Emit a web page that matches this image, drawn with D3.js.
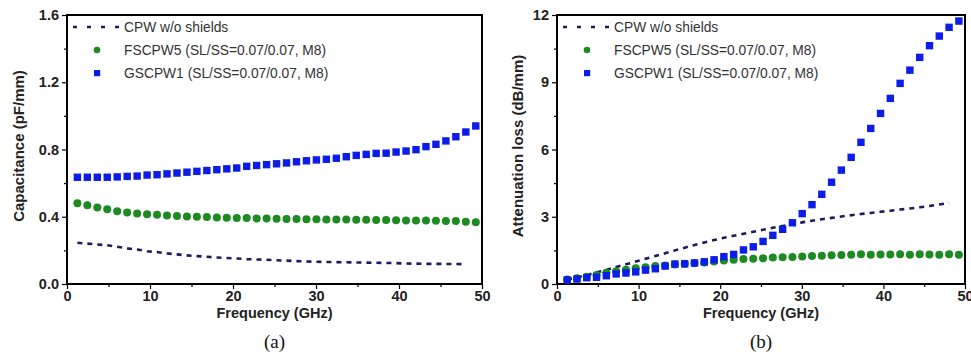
<!DOCTYPE html>
<html>
<head>
<meta charset="utf-8">
<script src="https://cdn.jsdelivr.net/npm/d3@7"></script>
<style>
  body { margin: 0; background: #fff; }
  svg { display: block; font-family: "Liberation Sans", Arial, sans-serif; }
  .tick text { font-weight: bold; font-size: 14.5px; fill: #222; }
  .axis path { display: none; }
  .axis line { stroke: #000; stroke-width: 1.2; }
</style>
</head>
<body>
<script>
// frequency grid (GHz), shared by all series
const freq = [1.25, 2.45, 3.65, 4.85, 6.05, 7.25, 8.45, 9.65, 10.85, 12.05, 13.25, 14.45, 15.65, 16.85,
  18.05, 19.25, 20.45, 21.65, 22.85, 24.05, 25.25, 26.45, 27.65, 28.85, 30.05, 31.25, 32.45, 33.65,
  34.85, 36.05, 37.25, 38.45, 39.65, 40.85, 42.05, 43.25, 44.45, 45.65, 46.85, 48.05, 49.25];
const freqCpw = freq.slice(0, 40);

// (a) capacitance, pF/mm
const capCpw = [0.245, 0.24, 0.235, 0.23, 0.222, 0.212, 0.205, 0.195, 0.19, 0.182,
  0.176, 0.17, 0.166, 0.162, 0.158, 0.155, 0.152, 0.148, 0.146, 0.144,
  0.141, 0.139, 0.136, 0.134, 0.132, 0.131, 0.13, 0.129, 0.128, 0.127,
  0.126, 0.125, 0.124, 0.122, 0.121, 0.12, 0.12, 0.119, 0.119, 0.118];
const capFs = [0.48, 0.468, 0.455, 0.445, 0.433, 0.425, 0.42, 0.415, 0.412, 0.407,
  0.404, 0.402, 0.40, 0.398, 0.395, 0.394, 0.393, 0.392, 0.39, 0.389,
  0.388, 0.387, 0.386, 0.385, 0.385, 0.384, 0.383, 0.383, 0.382, 0.382,
  0.381, 0.381, 0.379, 0.378, 0.377, 0.377, 0.376, 0.375, 0.374, 0.37, 0.368];
const capGs = [0.635, 0.635, 0.635, 0.635, 0.637, 0.64, 0.642, 0.648, 0.65, 0.655,
  0.66, 0.665, 0.67, 0.675, 0.68, 0.685, 0.69, 0.70, 0.705, 0.71,
  0.715, 0.72, 0.727, 0.733, 0.738, 0.742, 0.748, 0.757, 0.765, 0.771,
  0.777, 0.778, 0.785, 0.791, 0.799, 0.817, 0.831, 0.851, 0.876, 0.904, 0.94];

// (b) attenuation loss, dB/mm
const lossCpw = [0.2, 0.3, 0.4, 0.52, 0.63, 0.76, 0.88, 1.0, 1.13, 1.25,
  1.37, 1.5, 1.62, 1.74, 1.85, 1.96, 2.06, 2.15, 2.24, 2.33,
  2.42, 2.51, 2.59, 2.67, 2.75, 2.82, 2.89, 2.95, 3.01, 3.07,
  3.12, 3.17, 3.22, 3.27, 3.32, 3.37, 3.42, 3.48, 3.55, 3.62];
const lossFs = [0.2, 0.26, 0.32, 0.4, 0.5, 0.57, 0.64, 0.7, 0.75, 0.8,
  0.83, 0.87, 0.9, 0.93, 0.96, 1.0, 1.05, 1.08, 1.12, 1.13,
  1.15, 1.18, 1.19, 1.2, 1.23, 1.25, 1.26, 1.28, 1.29, 1.3,
  1.33, 1.31, 1.32, 1.32, 1.33, 1.31, 1.33, 1.32, 1.31, 1.33, 1.3];
const lossGs = [0.18, 0.22, 0.28, 0.3, 0.37, 0.45, 0.49, 0.54, 0.62, 0.68,
  0.8, 0.89, 0.9, 0.94, 0.99, 1.08, 1.22, 1.32, 1.52, 1.66,
  1.9, 2.17, 2.44, 2.73, 3.14, 3.54, 4.0, 4.54, 5.08, 5.65,
  6.32, 6.94, 7.61, 8.28, 8.95, 9.54, 10.11, 10.63, 11.06, 11.45, 11.73];

const legendLabels = ['CPW w/o shields', 'FSCPW5 (SL/SS=0.07/0.07, M8)', 'GSCPW1 (SL/SS=0.07/0.07, M8)'];
const xTicks = [0, 10, 20, 30, 40, 50];
const xMinor = [5, 15, 25, 35, 45];

const colDash = '#1b1b5e';
const colGreen = '#1e8a22';
const colBlue = '#0b1de6';

const svg = d3.select('body').append('svg')
  .attr('width', 971)
  .attr('height', 354);

function drawPanel(p) {
  const x = d3.scaleLinear().domain([0, 50]).range([p.left, p.right]);
  const y = d3.scaleLinear().domain(p.yDomain).range([284, 15]);
  const g = svg.append('g');

  // axes: major + minor ticks
  g.append('g').attr('class', 'axis').attr('transform', 'translate(0,284)')
    .call(d3.axisBottom(x).tickValues(xTicks).tickSize(5).tickPadding(2).tickFormat(d3.format('d')));
  g.append('g').attr('class', 'axis').attr('transform', 'translate(0,284)')
    .call(d3.axisBottom(x).tickValues(xMinor).tickSize(3).tickFormat(''));
  g.append('g').attr('class', 'axis').attr('transform', `translate(${p.left},0)`)
    .call(d3.axisLeft(y).tickValues(p.yTicks).tickSize(5).tickPadding(3).tickFormat(p.yFormat));
  g.append('g').attr('class', 'axis').attr('transform', `translate(${p.left},0)`)
    .call(d3.axisLeft(y).tickValues(p.yMinor).tickSize(3).tickFormat(''));

  // frame
  g.append('rect')
    .attr('x', p.left).attr('y', 15)
    .attr('width', p.right - p.left).attr('height', 269)
    .attr('fill', 'none').attr('stroke', '#000').attr('stroke-width', 2);

  // dashed CPW line
  const line = d3.line().x((d, i) => x(freqCpw[i])).y(d => y(d));
  g.append('path').datum(p.cpw)
    .attr('d', line)
    .attr('fill', 'none').attr('stroke', colDash)
    .attr('stroke-width', 2.6).attr('stroke-dasharray', '5,5');

  g.selectAll('.fs').data(p.fs).enter().append('circle')
    .attr('cx', (d, i) => x(freq[i])).attr('cy', d => y(d))
    .attr('r', 4).attr('fill', colGreen);

  g.selectAll('.gs').data(p.gs).enter().append('rect')
    .attr('x', (d, i) => x(freq[i]) - 3.7).attr('y', d => y(d) - 3.7)
    .attr('width', 7.4).attr('height', 7.4).attr('fill', colBlue);

  // legend
  const lx = p.left + 6;
  const tx = p.left + 57;
  g.append('line').attr('x1', lx).attr('x2', lx + 48).attr('y1', 27).attr('y2', 27)
    .attr('stroke', colDash).attr('stroke-width', 2.6).attr('stroke-dasharray', '4,10');
  g.append('circle').attr('cx', lx + 24).attr('cy', 50).attr('r', 3.3).attr('fill', colGreen);
  g.append('rect').attr('x', lx + 21).attr('y', 70).attr('width', 6.2).attr('height', 6.2).attr('fill', colBlue);
  g.selectAll('.leg').data(legendLabels).enter().append('text')
    .attr('x', tx).attr('y', (d, i) => 27 + i * 23)
    .attr('dy', '0.35em')
    .attr('font-size', 13.8).attr('fill', '#333')
    .text(d => d);

  // axis titles
  const cx = (p.left + p.right) / 2;
  g.append('text').attr('x', cx).attr('y', 318)
    .attr('text-anchor', 'middle').attr('font-size', 14.5).attr('font-weight', 'bold').attr('fill', '#222')
    .text('Frequency (GHz)');
  g.append('text')
    .attr('transform', `translate(${p.yLabelX},146) rotate(-90)`)
    .attr('text-anchor', 'middle').attr('dy', '0.35em')
    .attr('font-size', 15).attr('font-weight', 'bold').attr('fill', '#222')
    .text(p.yLabel);
  g.append('text').attr('x', cx).attr('y', 348)
    .attr('text-anchor', 'middle').attr('font-size', 19)
    .attr('font-family', '"Liberation Serif", "Times New Roman", serif').attr('fill', '#111')
    .text(p.caption);
}

drawPanel({
  left: 67, right: 482,
  yDomain: [0, 1.6], yTicks: [0, 0.4, 0.8, 1.2, 1.6], yMinor: [0.2, 0.6, 1.0, 1.4],
  yFormat: d3.format('.1f'),
  cpw: capCpw, fs: capFs, gs: capGs,
  yLabel: 'Capacitance (pF/mm)', yLabelX: 19, caption: '(a)'
});

drawPanel({
  left: 557, right: 965,
  yDomain: [0, 12], yTicks: [0, 3, 6, 9, 12], yMinor: [1.5, 4.5, 7.5, 10.5],
  yFormat: d3.format('d'),
  cpw: lossCpw, fs: lossFs, gs: lossGs,
  yLabel: 'Attenuation loss (dB/mm)', yLabelX: 518, caption: '(b)'
});
</script>
</body>
</html>
